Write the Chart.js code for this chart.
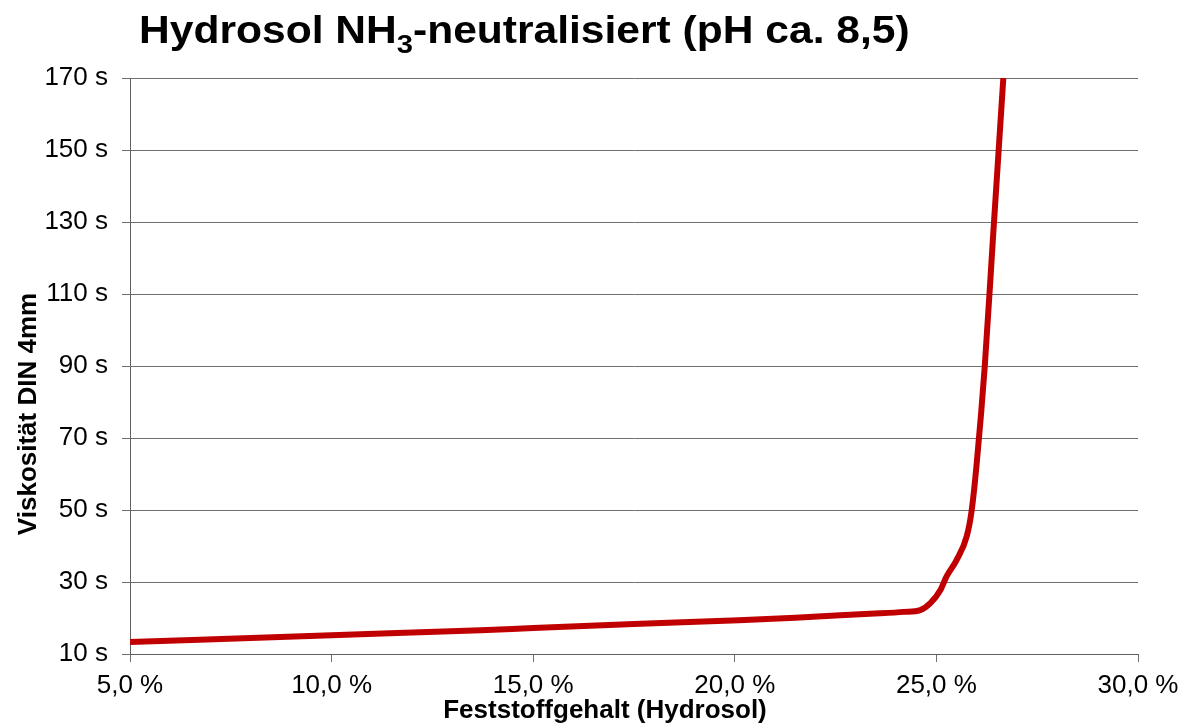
<!DOCTYPE html>
<html lang="de">
<head>
<meta charset="utf-8">
<title>Hydrosol NH3-neutralisiert</title>
<script src="https://cdn.jsdelivr.net/npm/chart.js@4/dist/chart.umd.min.js"></script>
<style>
  body { margin: 0; background: #fff; }
  .wrap { position: relative; width: 1187px; height: 727px; }
  .chart-title {
    position: absolute; left: 139px; top: 11px;
    font: bold 38px "Liberation Sans", Arial, sans-serif;
    line-height: 38px; color: #000; white-space: nowrap;
    transform: scaleX(1.12); transform-origin: left top;
  }
  .chart-title sub { font-size: 26px; line-height: 0; vertical-align: -10px; }
</style>
</head>
<body>
<div class="wrap">
  <div class="chart-title">Hydrosol NH<sub>3</sub>-neutralisiert (pH ca. 8,5)</div>
  <canvas id="viskChart" width="1187" height="727"></canvas>
</div>
<script>
const feststoff = [5, 10, 13.7, 15, 17.5, 20.1, 21.5, 22.5, 23.6, 24.2, 24.6, 24.85, 25.1, 25.25, 25.5, 25.75, 25.87, 26.0, 26.2, 26.4, 26.66];
const viskositaet = [13.3, 15.2, 16.6, 17.2, 18.3, 19.4, 20.1, 20.7, 21.3, 21.7, 22.2, 24.1, 27.8, 31.5, 36.1, 42.6, 49.5, 63, 90, 125, 170];

const xTitle = 'Feststoffgehalt (Hydrosol)';
const yTitle = 'Viskosität DIN 4mm';

const FONT = '"Liberation Sans", Arial, sans-serif';

/* Achsentitel wie im Original leicht versetzt */
const axisTitles = {
  id: 'axisTitles',
  afterDraw(chart) {
    const ctx = chart.ctx;
    ctx.save();
    ctx.fillStyle = '#000';
    ctx.font = 'bold 26px ' + FONT;
    ctx.textAlign = 'center';
    ctx.textBaseline = 'alphabetic';
    ctx.fillText(xTitle, 605, 718);
    ctx.translate(36, 414);
    ctx.rotate(-Math.PI / 2);
    ctx.fillText(yTitle, 0, 0);
    ctx.restore();
  }
};

const ctxVisk = document.getElementById('viskChart').getContext('2d');
const viskChart = new Chart(ctxVisk, {
  type: 'line',
  data: {
    datasets: [
      {
        data: feststoff.map((x, i) => ({ x: x, y: viskositaet[i] })),
        borderColor: '#C00000',
        borderWidth: 6,
        pointRadius: 0,
        fill: false,
        cubicInterpolationMode: 'monotone',
      },
    ],
  },
  options: {
    responsive: false,
    animation: false,
    layout: { padding: { top: 78, right: 49, left: 0, bottom: 0 } },
    plugins: {
      legend: { display: false },
      tooltip: { enabled: false },
    },
    scales: {
      x: {
        type: 'linear',
        min: 5,
        max: 30,
        afterFit: (scale) => { scale.height = 73; },
        ticks: {
          stepSize: 5,
          color: '#000',
          font: { family: FONT, size: 26 },
          padding: 8,
          maxRotation: 0,
          callback: (v) => v.toFixed(1).replace('.', ',') + ' %',
        },
        grid: { drawOnChartArea: false, drawTicks: true, tickLength: 8, color: '#707070' },
        border: { color: '#606060', width: 1 },
      },
      y: {
        min: 10,
        max: 170,
        afterFit: (scale) => { scale.width = 130; },
        ticks: {
          stepSize: 20,
          color: '#000',
          font: { family: FONT, size: 26 },
          padding: 14,
          callback: (v) => v + ' s',
        },
        grid: { color: '#707070', lineWidth: 1, tickLength: 8 },
        border: { color: '#606060', width: 1 },
      },
    },
  },
  plugins: [axisTitles],
});
</script>
</body>
</html>
